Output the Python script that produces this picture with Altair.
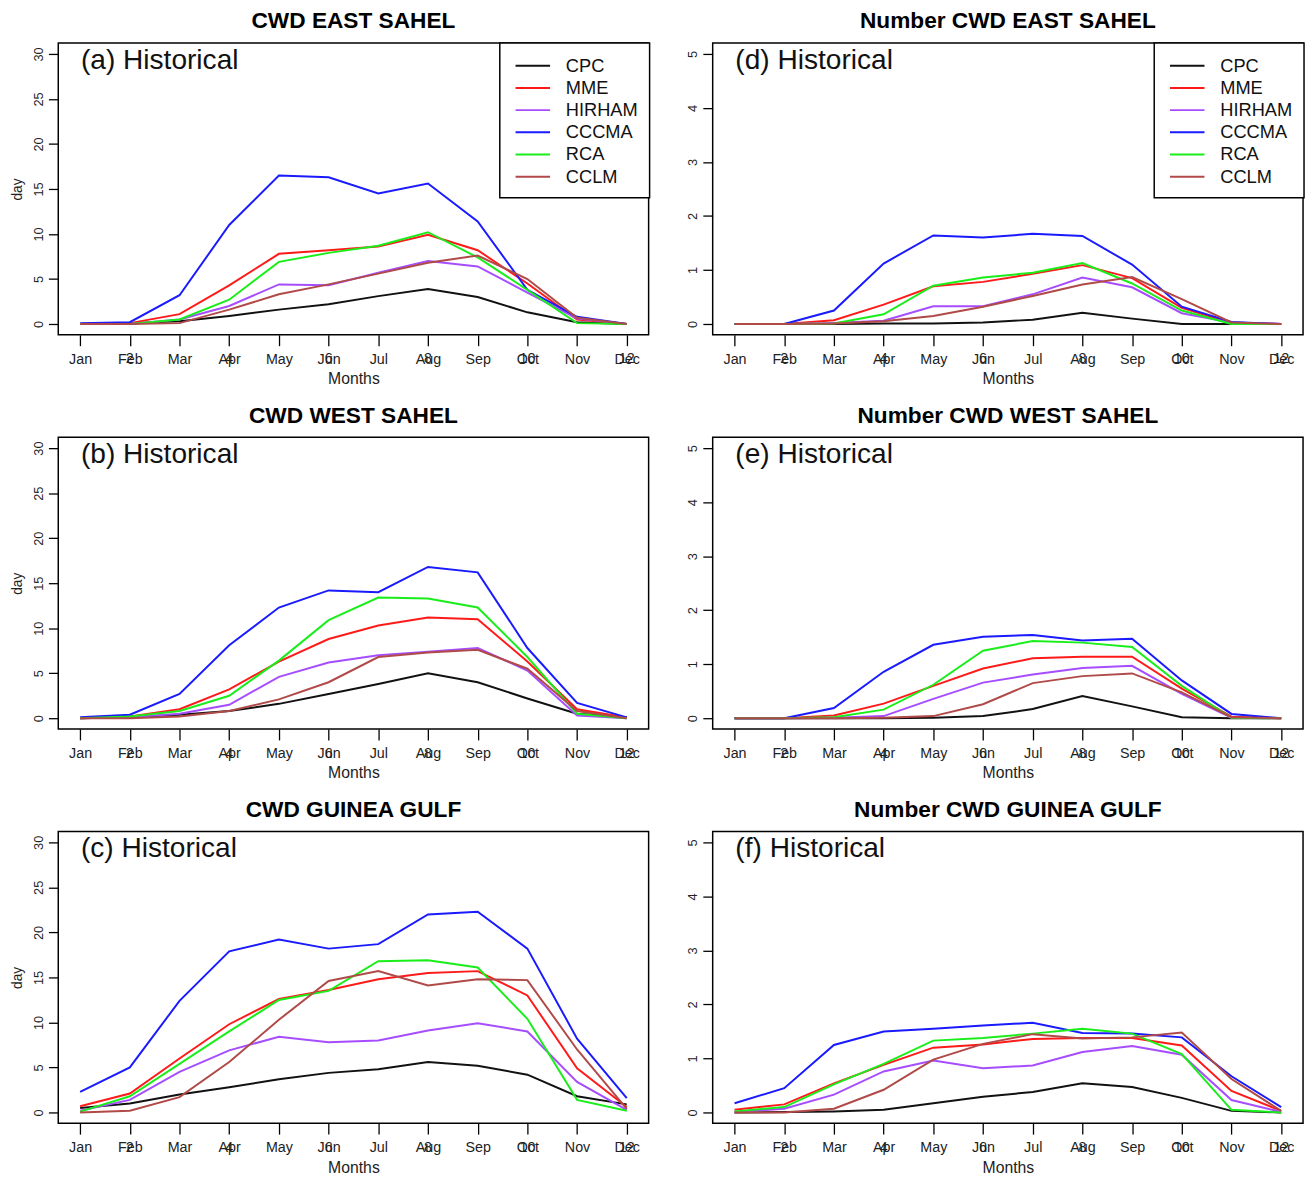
import altair as alt
import pandas as pd

MONTHS = ["Jan", "Feb", "Mar", "Apr", "May", "Jun", "Jul", "Aug", "Sep", "Oct", "Nov", "Dec"]
MODELS = ["CPC", "MME", "HIRHAM", "CCCMA", "RCA", "CCLM"]
COLORS = ["#111111", "#ff1a1a", "#a64dff", "#1a1aff", "#1aee1a", "#b04a48"]
EVEN_TICKS = [2, 4, 6, 8, 10, 12]
EVEN_LABELS = ["2", "4", "6", "8", "10", "12"]

cwd_east = {
    "CPC":    [0, 0.1, 0.3, 0.9, 1.6, 2.2, 3.1, 3.9, 3.0, 1.3, 0.2, 0],
    "MME":    [0, 0.1, 1.1, 4.3, 7.8, 8.2, 8.6, 9.9, 8.2, 4.5, 0.5, 0],
    "HIRHAM": [0, 0, 0.5, 2.0, 4.4, 4.3, 5.7, 7.0, 6.4, 3.5, 0.6, 0],
    "CCCMA":  [0.1, 0.2, 3.2, 11.0, 16.5, 16.3, 14.5, 15.6, 11.4, 3.8, 0.8, 0],
    "RCA":    [0, 0, 0.5, 2.7, 6.9, 7.9, 8.7, 10.2, 7.4, 3.8, 0.1, 0],
    "CCLM":   [0, 0, 0.1, 1.6, 3.3, 4.4, 5.6, 6.8, 7.6, 5.0, 0.7, 0],
}
num_east = {
    "CPC":    [0, 0, 0, 0.01, 0.01, 0.03, 0.08, 0.21, 0.10, 0.0, 0, 0],
    "MME":    [0, 0, 0.07, 0.36, 0.70, 0.78, 0.93, 1.09, 0.85, 0.30, 0.02, 0],
    "HIRHAM": [0, 0, 0.02, 0.06, 0.33, 0.33, 0.55, 0.86, 0.68, 0.20, 0.03, 0],
    "CCCMA":  [0, 0, 0.25, 1.12, 1.64, 1.60, 1.67, 1.63, 1.10, 0.32, 0.04, 0],
    "RCA":    [0, 0, 0.01, 0.18, 0.71, 0.86, 0.95, 1.13, 0.75, 0.25, 0, 0],
    "CCLM":   [0, 0, 0.01, 0.05, 0.15, 0.32, 0.52, 0.73, 0.87, 0.46, 0.03, 0],
}
cwd_west = {
    "CPC":    [0, 0.1, 0.4, 0.8, 1.6, 2.7, 3.8, 5.0, 4.0, 2.2, 0.5, 0.1],
    "MME":    [0, 0.2, 1.0, 3.2, 6.3, 8.8, 10.3, 11.2, 11.0, 6.3, 1.0, 0.1],
    "HIRHAM": [0, 0.1, 0.5, 1.5, 4.6, 6.2, 7.0, 7.4, 7.8, 5.3, 0.3, 0],
    "CCCMA":  [0.1, 0.4, 2.7, 8.1, 12.3, 14.2, 14.0, 16.8, 16.2, 7.8, 1.7, 0.1],
    "RCA":    [0, 0.2, 0.8, 2.5, 6.4, 10.9, 13.4, 13.3, 12.3, 6.8, 0.5, 0],
    "CCLM":   [0, 0, 0.2, 0.8, 2.1, 4.0, 6.8, 7.3, 7.6, 5.5, 0.8, 0],
}
num_west = {
    "CPC":    [0, 0, 0, 0, 0.01, 0.04, 0.17, 0.41, 0.22, 0.02, 0, 0],
    "MME":    [0, 0, 0.05, 0.27, 0.60, 0.92, 1.11, 1.14, 1.14, 0.55, 0.03, 0],
    "HIRHAM": [0, 0, 0.01, 0.04, 0.36, 0.66, 0.81, 0.93, 0.97, 0.45, 0.01, 0],
    "CCCMA":  [0, 0, 0.19, 0.86, 1.36, 1.51, 1.54, 1.44, 1.47, 0.70, 0.08, 0],
    "RCA":    [0, 0, 0.02, 0.16, 0.62, 1.25, 1.43, 1.40, 1.32, 0.60, 0.01, 0],
    "CCLM":   [0, 0, 0, 0.01, 0.04, 0.26, 0.65, 0.78, 0.83, 0.48, 0.02, 0],
}
cwd_guinea = {
    "CPC":    [0.5, 1.0, 2.0, 2.8, 3.7, 4.4, 4.8, 5.6, 5.2, 4.2, 1.8, 0.9],
    "MME":    [0.7, 2.1, 6.0, 9.8, 12.6, 13.6, 14.8, 15.5, 15.7, 13.0, 4.9, 0.6],
    "HIRHAM": [0.2, 1.4, 4.5, 6.9, 8.4, 7.8, 8.0, 9.1, 9.9, 9.0, 3.4, 0.3],
    "CCCMA":  [2.3, 5.0, 12.4, 17.9, 19.2, 18.2, 18.7, 22.0, 22.3, 18.2, 8.2, 1.6],
    "RCA":    [0.1, 1.8, 5.4, 9.0, 12.5, 13.5, 16.8, 16.9, 16.1, 10.4, 1.4, 0.2],
    "CCLM":   [0, 0.2, 1.7, 5.6, 10.3, 14.6, 15.7, 14.1, 14.8, 14.7, 7.0, 0.4],
}
num_guinea = {
    "CPC":    [0, 0.01, 0.02, 0.05, 0.17, 0.29, 0.38, 0.54, 0.47, 0.27, 0.03, 0],
    "MME":    [0.05, 0.15, 0.54, 0.88, 1.20, 1.26, 1.36, 1.38, 1.38, 1.24, 0.40, 0.03],
    "HIRHAM": [0.01, 0.07, 0.33, 0.76, 0.96, 0.82, 0.87, 1.12, 1.23, 1.07, 0.23, 0.01],
    "CCCMA":  [0.17, 0.45, 1.25, 1.50, 1.55, 1.61, 1.66, 1.47, 1.46, 1.39, 0.67, 0.10],
    "RCA":    [0.02, 0.10, 0.52, 0.90, 1.33, 1.38, 1.46, 1.55, 1.46, 1.08, 0.05, 0],
    "CCLM":   [0, 0, 0.07, 0.42, 0.98, 1.27, 1.45, 1.37, 1.39, 1.48, 0.62, 0.03],
}

FONT = "Liberation Sans"
W, H = 599, 296
LABEL_COLOR = "#222222"
month_expr = "[" + ",".join("'%s'" % m for m in MONTHS) + "][datum.value - 1]"


def panel(values, title, tag, ymax, ystep, ytitle, show_legend):
    rows = [{"month": i + 1, "value": v, "model": m}
            for m in MODELS for i, v in enumerate(values[m])]
    df = pd.DataFrame(rows)
    pad = ymax * 0.04
    xscale = alt.Scale(domain=[1 - 0.44, 12 + 0.44], nice=False, zero=False)
    yscale = alt.Scale(domain=[-pad, ymax + pad], nice=False, zero=False)
    xaxis = alt.Axis(values=list(range(1, 13)), labelExpr=month_expr, title="Months",
                     grid=False, domain=False, tickSize=11, tickColor="black",
                     tickWidth=1.3, labelFontSize=14.5, labelPadding=7, labelFont=FONT,
                     labelColor=LABEL_COLOR, titleFont=FONT, titleFontSize=16,
                     titleFontWeight="normal", titleColor=LABEL_COLOR, titlePadding=5,
                     labelFlush=False, labelOverlap=False)
    yargs = dict(values=list(range(0, ymax + 1, ystep)), grid=False, domain=False,
                 tickSize=10, tickColor="black", tickWidth=1.3, labelFontSize=13,
                 labelAngle=-90, labelAlign="center", labelBaseline="bottom",
                 labelPadding=3, labelFont=FONT, labelColor=LABEL_COLOR,
                 titleFont=FONT, titleFontSize=14, titleFontWeight="normal",
                 titleColor=LABEL_COLOR, titlePadding=8, labelFlush=False)
    if ytitle:
        yaxis = alt.Axis(title=ytitle, **yargs)
    else:
        yaxis = alt.Axis(title=None, **yargs)
    if show_legend:
        legend = alt.Legend(title=None, orient="none", legendX=448, legendY=0,
                            symbolType="M-0.7,0L2.8,0", symbolSize=400,
                            symbolStrokeWidth=2, labelFontSize=18.5, labelFont=FONT,
                            labelColor="#111111", labelOffset=33, rowPadding=1.5,
                            padding=12, fillColor="white", strokeColor="black")
    else:
        legend = None
    lines = alt.Chart(df).mark_line(strokeWidth=2).encode(
        x=alt.X("month:Q", scale=xscale, axis=xaxis),
        y=alt.Y("value:Q", scale=yscale, axis=yaxis),
        color=alt.Color("model:N", scale=alt.Scale(domain=MODELS, range=COLORS),
                        legend=legend),
    )
    tag_df = pd.DataFrame({"tag": [tag]})
    tag_text = alt.Chart(tag_df).mark_text(
        align="left", baseline="middle", fontSize=28.5, font=FONT, color="#111111"
    ).encode(x=alt.value(23), y=alt.value(17), text="tag:N")
    even_df = pd.DataFrame({"month": EVEN_TICKS, "label": EVEN_LABELS})
    even_text = alt.Chart(even_df).mark_text(
        align="center", baseline="middle", fontSize=14.5, font=FONT, color=LABEL_COLOR
    ).encode(x=alt.X("month:Q", scale=xscale), y=alt.value(H + 25), text="label:N")
    return alt.layer(lines, tag_text, even_text).properties(
        width=W, height=H,
        title=alt.TitleParams(text=title, fontSize=23, font=FONT, fontWeight="bold",
                              anchor="middle", frame="group", offset=10,
                              color="black"),
    )


pa = panel(cwd_east, "CWD EAST SAHEL", "(a) Historical", 30, 5, "day", True)
pd_ = panel(num_east, "Number CWD EAST SAHEL", "(d) Historical", 5, 1, None, True)
pb = panel(cwd_west, "CWD WEST SAHEL", "(b) Historical", 30, 5, "day", False)
pe = panel(num_west, "Number CWD WEST SAHEL", "(e) Historical", 5, 1, None, False)
pc = panel(cwd_guinea, "CWD GUINEA GULF", "(c) Historical", 30, 5, "day", False)
pf = panel(num_guinea, "Number CWD GUINEA GULF", "(f) Historical", 5, 1, None, False)

rows = []
for (left, right), gap in zip([(pa, pd_), (pb, pe), (pc, pf)], [35, 37, 37]):
    rows.append(alt.hconcat(left, right, spacing=gap).resolve_scale(color="independent"))

chart = alt.vconcat(*rows, spacing=16).resolve_scale(color="independent").properties(
    padding={"left": 2, "top": -8, "right": 0, "bottom": 0}, background="white"
).configure_view(stroke="black", strokeWidth=1.5).configure_legend(
    strokeColor="black", strokeWidth=1.5
)

chart.save("out.html", embed_options={"renderer": "svg", "actions": False})
